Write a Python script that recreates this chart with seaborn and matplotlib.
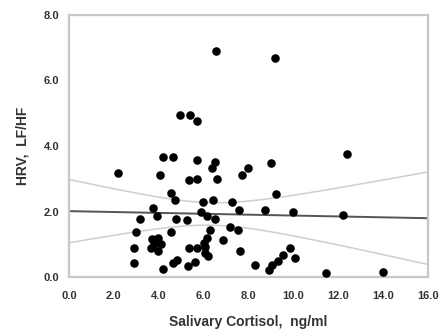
import numpy as np
import pandas as pd
import seaborn as sns
import matplotlib
matplotlib.use('Agg')
import matplotlib.pyplot as plt

sns.set_theme(style='white')
plt.rcParams['font.family'] = ['Liberation Sans', 'DejaVu Sans']

# salivary cortisol (ng/ml) vs HRV LF/HF
cortisol = [6.56, 9.18, 4.95, 5.39, 5.70, 12.40,
            4.20, 4.62, 5.69, 2.20, 4.04, 5.35, 5.73, 6.51, 6.36, 6.58, 7.70, 7.99, 8.99,
            4.57, 4.72, 3.76, 9.25, 5.99, 6.43, 7.25, 7.60, 8.73, 9.97, 12.22,
            3.91, 3.15, 4.77, 5.26, 5.88, 6.14, 6.50, 7.17, 7.55,
            3.00, 4.57, 6.30, 6.16, 6.88, 6.00,
            3.70, 3.95, 3.65, 3.95, 4.10, 3.80,
            2.90, 2.90, 4.20, 4.65, 4.83, 5.35, 5.32, 5.61, 5.69, 6.06, 6.18, 7.62,
            8.29, 8.92, 9.03, 9.30, 9.55, 9.87, 10.07, 11.48, 14.01, 6.05]
lf_hf = [6.90, 6.68, 4.93, 4.95, 4.77, 3.76,
         3.65, 3.65, 3.57, 3.18, 3.11, 2.95, 2.99, 3.50, 3.32, 2.99, 3.10, 3.32, 3.47,
         2.55, 2.35, 2.12, 2.53, 2.30, 2.34, 2.28, 2.05, 2.06, 2.00, 1.89,
         1.85, 1.77, 1.78, 1.74, 1.97, 1.86, 1.76, 1.52, 1.45,
         1.36, 1.36, 1.43, 1.20, 1.13, 1.05,
         1.15, 1.20, 0.90, 0.80, 1.00, 1.00,
         0.88, 0.43, 0.25, 0.44, 0.53, 0.90, 0.33, 0.47, 0.88, 0.72, 0.64, 0.78,
         0.37, 0.21, 0.37, 0.50, 0.67, 0.88, 0.57, 0.11, 0.16, 0.93]

x_ticks = [0, 2, 4, 6, 8, 10, 12, 14, 16]
y_ticks = [0, 2, 4, 6, 8]

df = pd.DataFrame({'cortisol': cortisol, 'lf_hf': lf_hf})

fig = plt.figure(figsize=(4.42, 3.31), dpi=100)
ax = fig.add_axes([0.156, 0.163, 0.812, 0.792])
ax.set_xlim(0, 16)
ax.set_ylim(0, 8)

sns.regplot(data=df, x='cortisol', y='lf_hf', ax=ax, ci=None, truncate=False,
            scatter_kws=dict(s=38, color='black', linewidths=0, alpha=1, zorder=3),
            line_kws=dict(color='#555555', lw=1.4, zorder=2))

# 95% confidence band of the fit, drawn as two thin lines
x = df['cortisol'].to_numpy()
y = df['lf_hf'].to_numpy()
n = len(x)
b, a = np.polyfit(x, y, 1)
resid = y - (a + b * x)
s = np.sqrt((resid ** 2).sum() / (n - 2))
xg = np.linspace(0, 16, 200)
se = s * np.sqrt(1 / n + (xg - x.mean()) ** 2 / ((x - x.mean()) ** 2).sum())
fit = a + b * xg
ax.plot(xg, fit + 1.99 * se, color='#cfcfcf', lw=1.1, zorder=1)
ax.plot(xg, fit - 1.99 * se, color='#cfcfcf', lw=1.1, zorder=1)

ax.set_xlim(0, 16)
ax.set_ylim(0, 8)
ax.set_xticks(x_ticks)
ax.set_yticks(y_ticks)
ax.set_xticklabels([f'{v:.1f}' for v in x_ticks])
ax.set_yticklabels([f'{v:.1f}' for v in y_ticks])
for sp in ax.spines.values():
    sp.set_color('#c8c8c8')
    sp.set_linewidth(1.6)
ax.tick_params(axis='both', direction='out', length=4, width=1, color='#c8c8c8',
               labelsize=8, labelcolor='#333333', pad=3)
ax.tick_params(axis='x', pad=6)
for lab in ax.get_xticklabels() + ax.get_yticklabels():
    lab.set_fontweight('bold')

ax.set_xlabel('Salivary Cortisol,  ng/ml', fontsize=10, fontweight='bold',
              color='#333333', labelpad=10)
ax.set_ylabel('HRV,  LF/HF', fontsize=10, fontweight='bold',
              color='#333333', labelpad=10)

fig.savefig('out.png', dpi=100)
